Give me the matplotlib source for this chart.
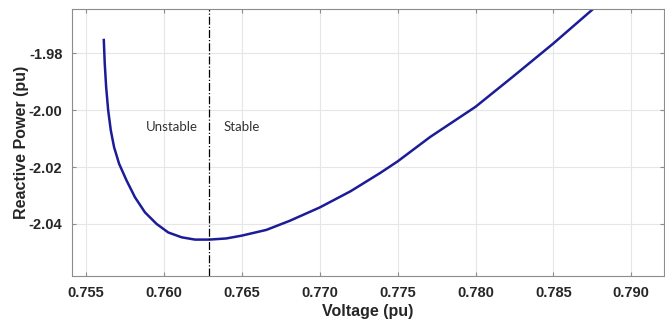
import matplotlib
matplotlib.use("Agg")
import matplotlib.pyplot as plt

# values
voltage = [0.75614, 0.75620, 0.75629, 0.75642, 0.75659, 0.75680, 0.75712, 0.75760,
           0.75814, 0.75878, 0.75953, 0.76028, 0.76114, 0.76199, 0.76291, 0.76400,
           0.76500, 0.76657, 0.76807, 0.77000, 0.77198, 0.77390, 0.77500, 0.77709,
           0.78000, 0.78240, 0.78500, 0.78761]
reactive = [-1.9753, -1.9835, -1.9918, -2.0000, -2.0071, -2.0130, -2.0188, -2.0247,
            -2.0306, -2.0359, -2.0400, -2.0430, -2.0447, -2.0455, -2.0455, -2.0451,
            -2.0441, -2.0421, -2.0389, -2.0342, -2.0285, -2.0220, -2.0180, -2.0094,
            -1.9988, -1.9882, -1.9765, -1.9641]
v_crit = 0.76292
x_ticks = [0.755, 0.760, 0.765, 0.770, 0.775, 0.780, 0.785, 0.790]
y_ticks = [-1.98, -2.00, -2.02, -2.04]

tick_color = "#262626"
spine_color = "#8c8c8c"

fig = plt.figure(figsize=(6.65, 3.22), dpi=100)
ax = fig.add_axes([0.1083, 0.1429, 0.8902, 0.8291])

ax.plot(voltage, reactive, color="#1c1c99", lw=1.8, solid_joinstyle="round")
ax.axvline(v_crit, color="black", lw=0.9, ls="-.")

ax.text(0.76051, -2.0058, "Unstable", ha="center", va="center",
        fontsize=9.5, family="Lato", color="#333333")
ax.text(0.76380, -2.0058, "Stable", ha="left", va="center",
        fontsize=9.5, family="Lato", color="#333333")

ax.set_xlim(0.7541, 0.7921)
ax.set_ylim(-2.0583, -1.9644)
ax.set_xticks(x_ticks)
ax.set_xticklabels([f"{t:.3f}" for t in x_ticks])
ax.set_yticks(y_ticks)
ax.set_yticklabels([f"{t:.2f}" for t in y_ticks])

ax.grid(True, color="#e6e6e6", lw=0.8)
ax.set_axisbelow(True)
for s in ax.spines.values():
    s.set_color(spine_color)
    s.set_linewidth(0.8)
ax.tick_params(direction="in", top=True, right=True, length=3,
               color=spine_color, labelcolor=tick_color, pad=7)
for lab in ax.get_xticklabels() + ax.get_yticklabels():
    lab.set_fontfamily("Liberation Sans")
    lab.set_fontweight("bold")
    lab.set_fontsize(10.5)

ax.set_xlabel("Voltage (pu)", fontsize=11.5, fontweight="bold",
              family="Liberation Sans", color=tick_color, labelpad=3)
ax.set_ylabel("Reactive Power (pu)", fontsize=11.5, fontweight="bold",
              family="Liberation Sans", color=tick_color, labelpad=0)

fig.savefig("out.png", dpi=100)
